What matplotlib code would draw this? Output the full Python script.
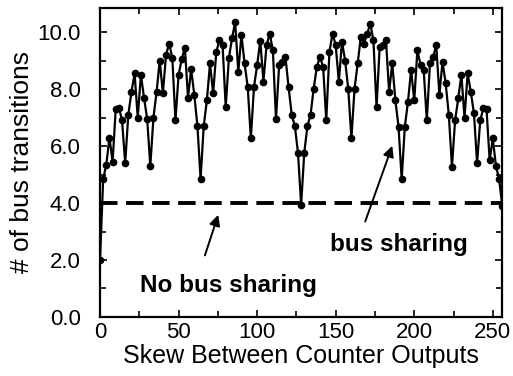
import matplotlib.pyplot as plt
from matplotlib.ticker import MultipleLocator

# skew values (even steps) and bus transitions
skew = list(range(0, 258, 2))
transiciones = [2.0, 4.85, 5.35, 6.3, 5.45, 7.3, 7.35, 6.9, 5.4, 7.1,
                7.9, 8.55, 7.0, 8.5, 7.7, 6.95, 5.3, 7.0, 7.9, 9.0,
                7.85, 9.2, 9.6, 9.1, 6.9, 8.5, 9.05, 9.45, 7.7, 8.7,
                7.8, 6.7, 4.85, 6.7, 7.6, 8.9, 7.85, 9.3, 9.72, 9.54,
                7.36, 9.08, 9.78, 10.35, 8.6, 9.9, 8.9, 8.08, 6.27, 8.08,
                8.84, 9.7, 8.26, 9.54, 9.95, 9.37, 6.94, 8.84, 8.96, 9.13,
                8.08, 7.1, 6.7, 5.77, 3.93, 5.77, 6.7, 7.1, 8.02, 8.78,
                9.13, 8.78, 6.9, 9.3, 9.95, 9.54, 8.26, 9.66, 9.0, 8.0,
                6.27, 8.02, 8.9, 9.84, 9.6, 9.93, 10.3, 9.72, 7.36, 9.49,
                9.54, 9.72, 7.9, 8.9, 7.6, 6.68, 4.83, 6.68, 7.55, 8.67,
                7.6, 9.37, 8.84, 8.67, 6.9, 8.9, 9.13, 9.54, 7.8, 8.96,
                8.2, 7.1, 5.27, 6.9, 7.67, 8.5, 7.0, 8.55, 7.9, 7.15,
                5.4, 6.9, 7.33, 7.3, 5.5, 6.27, 5.3, 4.85, 3.9]
sinCompartir = 4.0

plt.rcParams['font.family'] = ['Liberation Sans', 'DejaVu Sans']

fig = plt.figure(figsize=(5.13, 3.76), dpi=100)
ax = fig.add_axes([0.195, 0.157, 0.784, 0.822])

ax.axhline(sinCompartir, color='black', lw=2.8, dashes=(4.5, 2.2))
ax.plot(skew, transiciones, color='black', lw=1.6, marker='o', markersize=4.5)

ax.set_xlim(0, 256)
ax.set_ylim(0, 10.85)
ax.xaxis.set_major_locator(MultipleLocator(50))
ax.xaxis.set_minor_locator(MultipleLocator(25))
ax.yaxis.set_major_locator(MultipleLocator(2))
ax.yaxis.set_minor_locator(MultipleLocator(1))
ax.yaxis.set_major_formatter(plt.FuncFormatter(lambda v, p: f'{v:.1f}'))
ax.tick_params(which='both', direction='in', top=True, right=True, width=1.2)
ax.tick_params(which='major', length=5, labelsize=16)
ax.tick_params(which='minor', length=4)
ax.tick_params(axis='y', which='major', pad=14)
for s in ax.spines.values():
    s.set_linewidth(1.6)

ax.set_xlabel('Skew Between Counter Outputs', fontsize=18, labelpad=1)
ax.set_ylabel('# of bus transitions', fontsize=19, labelpad=2)

ax.text(25.5, 1.09, 'No bus sharing', fontsize=17.5, fontweight='bold', va='center')
ax.text(146.5, 2.53, 'bus sharing', fontsize=17.5, fontweight='bold', va='center')
ax.annotate('', xy=(75.8, 3.68), xytext=(66.2, 2.07),
            arrowprops=dict(arrowstyle='-|>', color='black', lw=1.4, mutation_scale=16))
ax.annotate('', xy=(186.6, 6.1), xytext=(168.2, 3.26),
            arrowprops=dict(arrowstyle='-|>', color='black', lw=1.4, mutation_scale=16))

plt.savefig('out.png')
